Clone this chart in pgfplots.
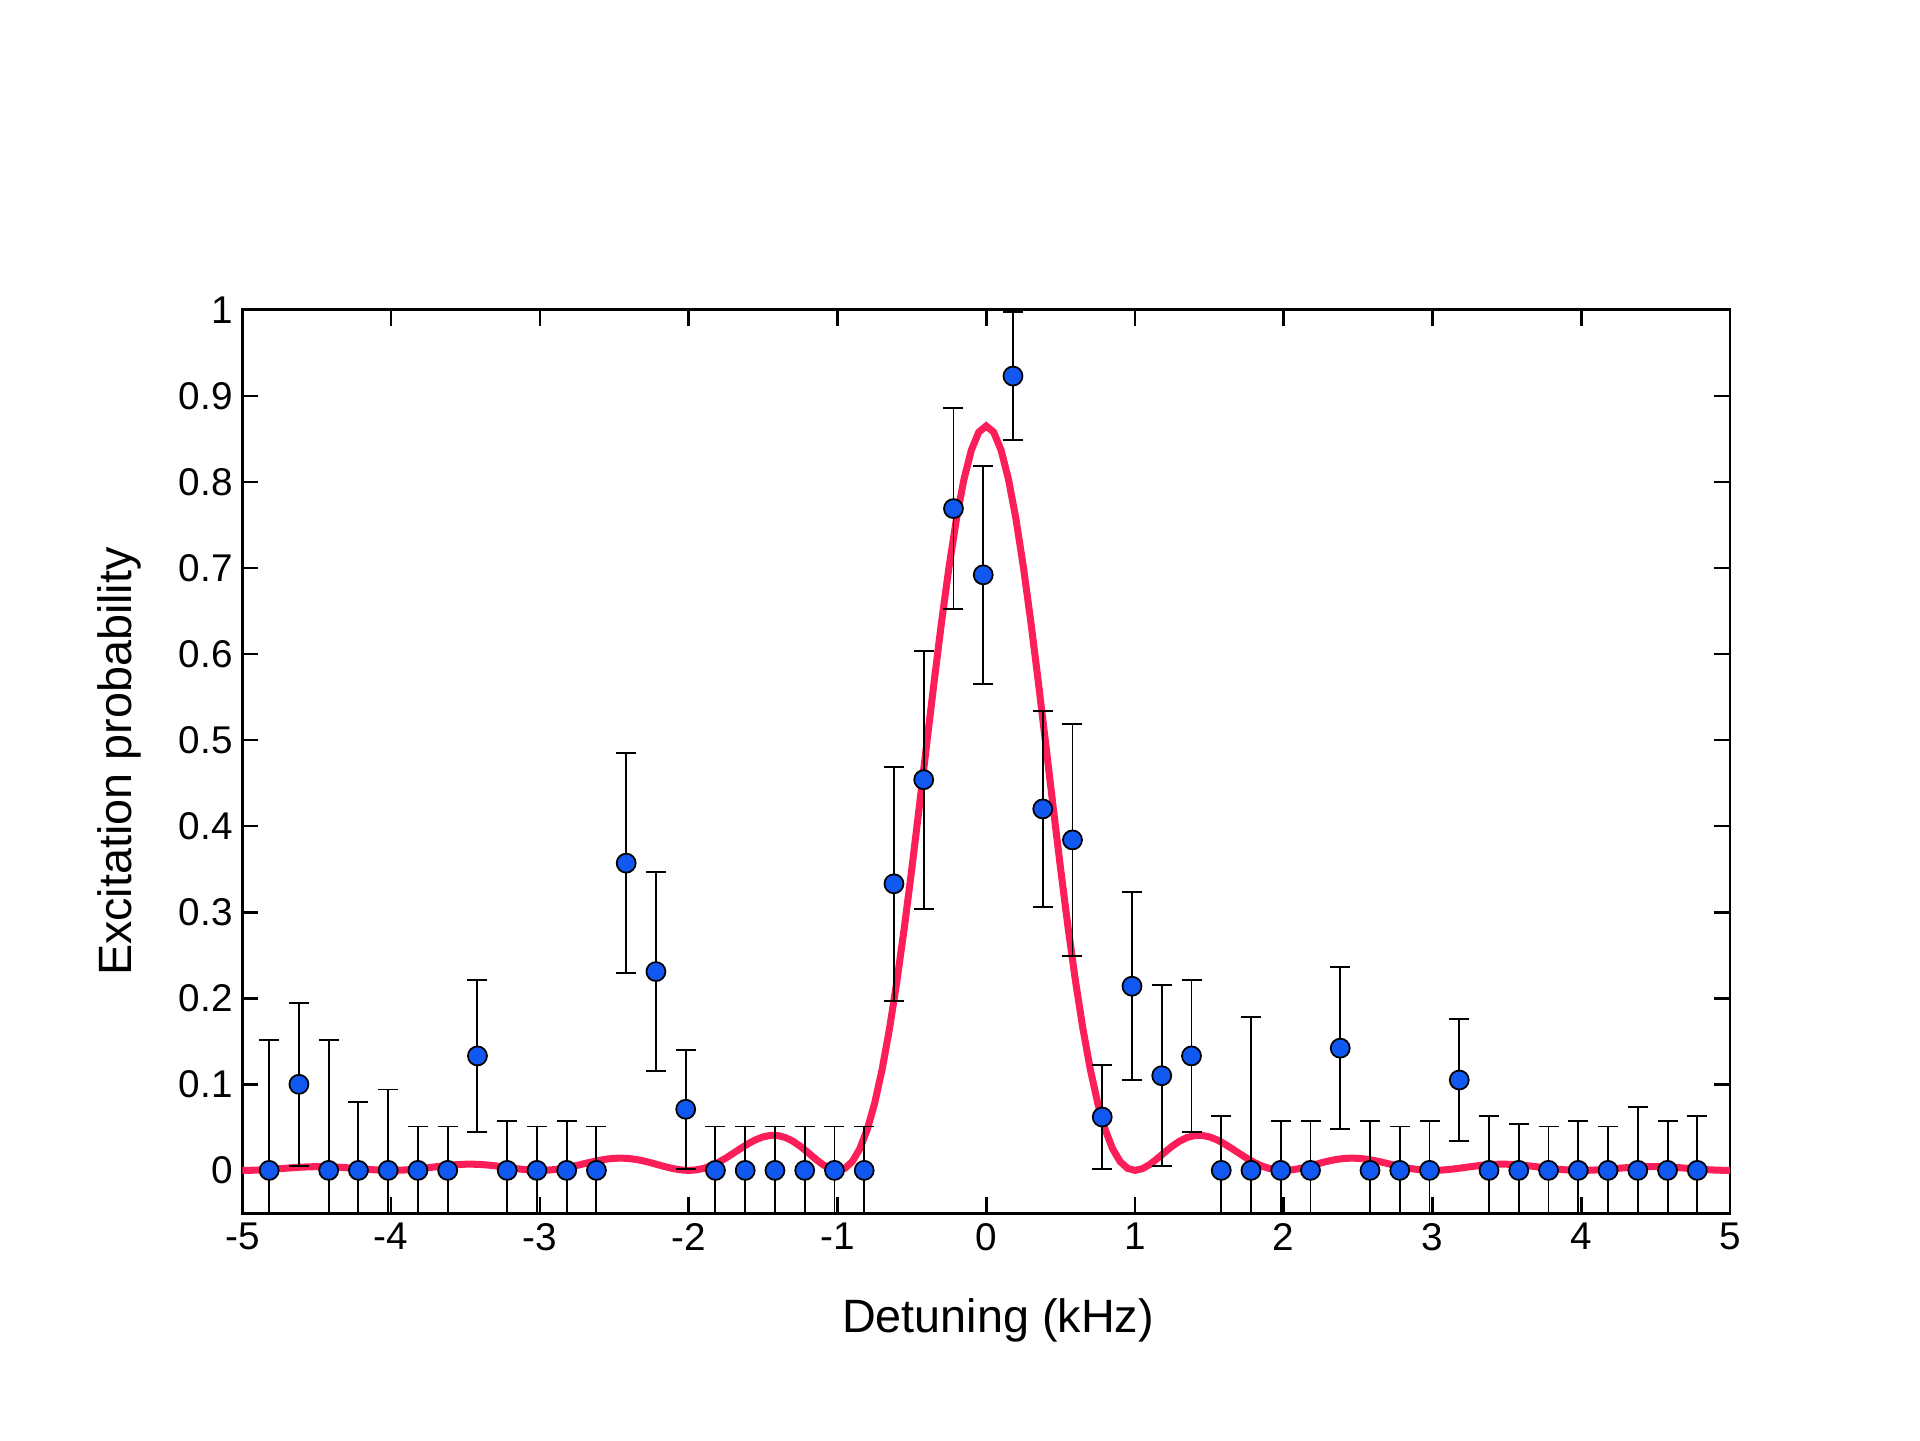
\documentclass[border=0pt]{standalone}
\usepackage{fontspec}
\setmainfont{Liberation Sans}
\usepackage{pgfplots}
\usepackage{pgfplotstable}
\pgfplotsset{compat=1.18}
\definecolor{ptblue}{RGB}{16,88,240}
\definecolor{fitred}{RGB}{252,30,88}

\pgfplotstableread{
x y e
-4.82 0 0.152
-4.62 0.10 0.095
-4.42 0 0.152
-4.22 0 0.079
-4.02 0 0.094
-3.82 0 0.051
-3.62 0 0.051
-3.42 0.133 0.088
-3.22 0 0.057
-3.02 0 0.051
-2.82 0 0.057
-2.62 0 0.051
-2.42 0.357 0.128
-2.22 0.231 0.116
-2.02 0.071 0.069
-1.82 0 0.051
-1.62 0 0.051
-1.42 0 0.051
-1.22 0 0.051
-1.02 0 0.051
-0.82 0 0.051
-0.62 0.333 0.136
-0.42 0.454 0.150
-0.22 0.769 0.117
-0.02 0.692 0.127
0.18 0.923 0.074
0.38 0.420 0.114
0.58 0.384 0.135
0.78 0.062 0.060
0.98 0.214 0.109
1.18 0.110 0.105
1.38 0.133 0.088
1.58 0 0.063
1.78 0 0.178
1.98 0 0.057
2.18 0 0.057
2.38 0.142 0.094
2.58 0 0.057
2.78 0 0.051
2.98 0 0.057
3.18 0.105 0.071
3.38 0 0.063
3.58 0 0.054
3.78 0 0.051
3.98 0 0.057
4.18 0 0.051
4.38 0 0.074
4.58 0 0.057
4.78 0 0.063
}\pts

\pgfplotstableread{
x y
-5.00 0
-4.95 0.00009
-4.90 0.00035
-4.85 0.00077
-4.80 0.00131
-4.75 0.00194
-4.70 0.00260
-4.65 0.00322
-4.60 0.00375
-4.55 0.00413
-4.50 0.00433
-4.45 0.00432
-4.40 0.00409
-4.35 0.00368
-4.30 0.00310
-4.25 0.00243
-4.20 0.00172
-4.15 0.00105
-4.10 0.00050
-4.05 0.00013
-4.00 0
-3.95 0.00014
-3.90 0.00055
-3.85 0.00122
-3.80 0.00210
-3.75 0.00312
-3.70 0.00419
-3.65 0.00522
-3.60 0.00612
-3.55 0.00678
-3.50 0.00715
-3.45 0.00718
-3.40 0.00686
-3.35 0.00620
-3.30 0.00527
-3.25 0.00415
-3.20 0.00296
-3.15 0.00182
-3.10 0.00087
-3.05 0.00023
-3.00 0
-2.95 0.00025
-2.90 0.00100
-2.85 0.00222
-2.80 0.00386
-2.75 0.00579
-2.70 0.00787
-2.65 0.00991
-2.60 0.01173
-2.55 0.01315
-2.50 0.01402
-2.45 0.01424
-2.40 0.01376
-2.35 0.01260
-2.30 0.01084
-2.25 0.00866
-2.20 0.00626
-2.15 0.00391
-2.10 0.00190
-2.05 0.00051
-2.00 0
-1.95 0.00056
-1.90 0.00232
-1.85 0.00528
-1.80 0.00935
-1.75 0.01431
-1.70 0.01985
-1.65 0.02556
-1.60 0.03097
-1.55 0.03559
-1.50 0.03895
-1.45 0.04067
-1.40 0.04045
-1.35 0.03818
-1.30 0.03394
-1.25 0.02805
-1.20 0.02103
-1.15 0.01366
-1.10 0.00692
-1.05 0.00195
-1.00 0
-0.95 0.00238
-0.90 0.0103
-0.85 0.0250
-0.80 0.0473
-0.75 0.0779
-0.70 0.1171
-0.65 0.1647
-0.60 0.2202
-0.55 0.2826
-0.50 0.3506
-0.45 0.4222
-0.40 0.4955
-0.35 0.5680
-0.30 0.6374
-0.25 0.7011
-0.20 0.7570
-0.15 0.8028
-0.10 0.8369
-0.05 0.8579
0.00 0.8650
0.05 0.8579
0.10 0.8369
0.15 0.8028
0.20 0.7570
0.25 0.7011
0.30 0.6374
0.35 0.5680
0.40 0.4955
0.45 0.4222
0.50 0.3506
0.55 0.2826
0.60 0.2202
0.65 0.1647
0.70 0.1171
0.75 0.0779
0.80 0.0473
0.85 0.0250
0.90 0.0103
0.95 0.00238
1.00 0
1.05 0.00195
1.10 0.00692
1.15 0.01366
1.20 0.02103
1.25 0.02805
1.30 0.03394
1.35 0.03818
1.40 0.04045
1.45 0.04067
1.50 0.03895
1.55 0.03559
1.60 0.03097
1.65 0.02556
1.70 0.01985
1.75 0.01431
1.80 0.00935
1.85 0.00528
1.90 0.00232
1.95 0.00056
2.00 0
2.05 0.00051
2.10 0.00190
2.15 0.00391
2.20 0.00626
2.25 0.00866
2.30 0.01084
2.35 0.01260
2.40 0.01376
2.45 0.01424
2.50 0.01402
2.55 0.01315
2.60 0.01173
2.65 0.00991
2.70 0.00787
2.75 0.00579
2.80 0.00386
2.85 0.00222
2.90 0.00100
2.95 0.00025
3.00 0
3.05 0.00023
3.10 0.00087
3.15 0.00182
3.20 0.00296
3.25 0.00415
3.30 0.00527
3.35 0.00620
3.40 0.00686
3.45 0.00718
3.50 0.00715
3.55 0.00678
3.60 0.00612
3.65 0.00522
3.70 0.00419
3.75 0.00312
3.80 0.00210
3.85 0.00122
3.90 0.00055
3.95 0.00014
4.00 0
4.05 0.00013
4.10 0.00050
4.15 0.00105
4.20 0.00172
4.25 0.00243
4.30 0.00310
4.35 0.00368
4.40 0.00409
4.45 0.00432
4.50 0.00433
4.55 0.00413
4.60 0.00375
4.65 0.00322
4.70 0.00260
4.75 0.00194
4.80 0.00131
4.85 0.00077
4.90 0.00035
4.95 0.00009
5.00 0
}\fit

\begin{document}
\begin{tikzpicture}
\path[use as bounding box] (-2.424,-2.266) rectangle (16.776,12.134);
\begin{axis}[
  scale only axis,
  width=14.876cm, height=9.036cm,
  xmin=-5, xmax=5, ymin=-0.05, ymax=1,
  xtick={-5,-4,-3,-2,-1,0,1,2,3,4,5},
  xticklabels={-5,-4,-3,-2,-1,0,1,2,3,4,5},
  ytick={0,0.1,0.2,0.3,0.4,0.5,0.6,0.7,0.8,0.9,1},
  yticklabels={0,0.1,0.2,0.3,0.4,0.5,0.6,0.7,0.8,0.9,1},
  tick align=inside,
  major tick length=0.16cm,
  minor tick num=0,
  axis line style={line width=0.75pt},
  every tick/.style={black, line width=0.75pt},
  tick label style={font=\fontsize{11}{13}\selectfont},
  yticklabel style={inner sep=0pt, xshift=-0.09cm},
  xticklabel style={inner sep=0pt, yshift=-0.09cm},
  /pgf/number format/assume math mode=true,
  xlabel={Detuning (kHz)},
  ylabel={Excitation probability},
  every axis x label/.style={at={(axis description cs:0.508,-0.118)},anchor=center,font=\fontsize{13.3}{16}\selectfont},
  every axis y label/.style={at={(axis description cs:-0.0827,0.5)},anchor=center,rotate=90,font=\fontsize{13.3}{16}\selectfont},
  clip=true,
]
\addplot[fitred, line width=2pt, no marks] table[x=x,y=y] {\fit};
\addplot[
  only marks,
  mark=*,
  mark size=0.095cm,
  mark options={fill=ptblue, draw=black, line width=0.5pt},
  error bars/.cd,
    y dir=both, y explicit,
    error bar style={black, line width=0.55pt},
    error mark options={rotate=90, black, line width=0.55pt, mark size=0.1cm},
] table[x=x, y=y, y error=e] {\pts};
\end{axis}
\end{tikzpicture}
\end{document}
